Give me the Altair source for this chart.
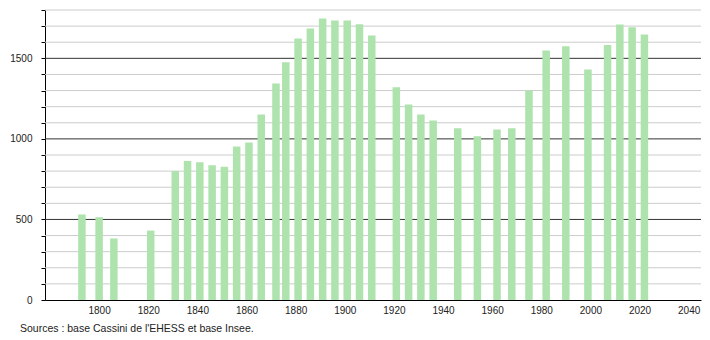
import altair as alt
import pandas as pd

years = [1793, 1800, 1806, 1821, 1831, 1836, 1841, 1846, 1851, 1856, 1861, 1866,
         1872, 1876, 1881, 1886, 1891, 1896, 1901, 1906, 1911, 1921, 1926, 1931,
         1936, 1946, 1954, 1962, 1968, 1975, 1982, 1990, 1999, 2007, 2012, 2017, 2022]
population = [531, 514, 382, 431, 800, 862, 855, 837, 827, 953, 978, 1151,
              1344, 1476, 1623, 1685, 1747, 1735, 1735, 1712, 1642, 1321, 1213, 1151,
              1114, 1066, 1017, 1058, 1066, 1300, 1549, 1575, 1431, 1582, 1710, 1693, 1648]
minor_grid = [v for v in range(100, 1900, 100) if v % 500 != 0]
major_grid = [500, 1000, 1500]
x_ticks = list(range(1800, 2041, 20))
y_ticks = list(range(0, 1900, 100))
source = ["Sources : base Cassini de l'EHESS et base Insee."]

FONT = "Liberation Sans"
xscale = alt.Scale(domain=[1780, 2043], nice=False, zero=False)
yscale = alt.Scale(domain=[0, 1800], nice=False)

yaxis = alt.Axis(values=y_ticks, format="d", grid=False, title=None,
                 labelExpr="datum.value % 500 == 0 ? datum.label : ''",
                 tickSize=4, tickColor="#000000", domainColor="#000000",
                 labelPadding=9)
xaxis = alt.Axis(values=x_ticks, format="d", ticks=False, grid=False,
                 title=None, labelPadding=5, domainColor="#000000")

df = pd.DataFrame({"year": years, "pop": population})

minor = alt.Chart(pd.DataFrame({"v": minor_grid})).mark_rule(
    color="#cccccc", strokeWidth=1
).encode(y=alt.Y("v:Q", scale=yscale, axis=yaxis))

major = alt.Chart(pd.DataFrame({"v": major_grid})).mark_rule(
    color="#333333", strokeWidth=1
).encode(y=alt.Y("v:Q", scale=yscale, axis=yaxis))

bars = alt.Chart(df).mark_bar(size=7.5, color="#aee3ae").encode(
    x=alt.X("year:Q", scale=xscale, axis=xaxis),
    y=alt.Y("pop:Q", scale=yscale, axis=yaxis),
)

src = alt.Chart(pd.DataFrame({"t": source})).mark_text(
    align="left", baseline="middle", font=FONT, fontSize=10.5, color="#222222"
).encode(x=alt.value(-25), y=alt.value(319), text="t:N")

chart = alt.layer(minor, major, bars, src).properties(
    width=656, height=290,
    autosize=alt.AutoSizeParams(type="none"),
    padding={"left": 45, "top": 10, "right": 9, "bottom": 40},
).configure_view(stroke=None).configure_axis(
    labelFont=FONT, labelFontSize=10, labelColor="#222222",
    domainColor="#000000", domainWidth=1
)

chart.save("out.html", embed_options={"renderer": "svg", "actions": False})
